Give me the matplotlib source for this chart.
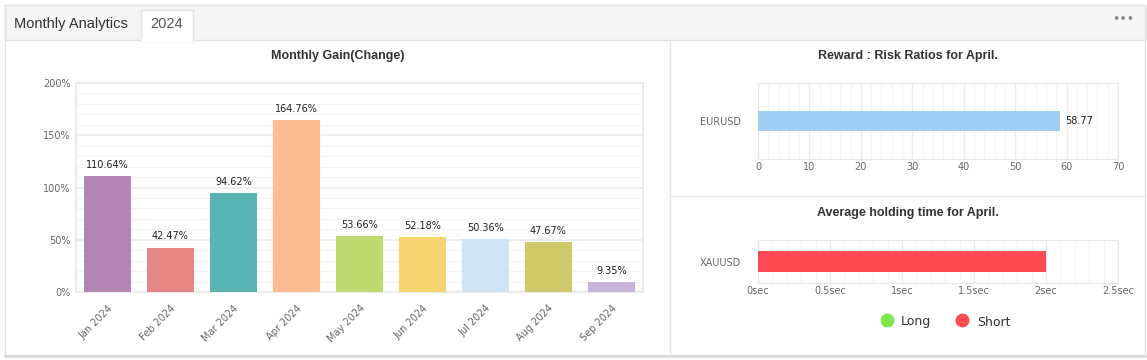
import matplotlib.pyplot as plt
from matplotlib.patches import Rectangle
from matplotlib.ticker import MultipleLocator, FuncFormatter

months = ['Jan 2024', 'Feb 2024', 'Mar 2024', 'Apr 2024', 'May 2024',
          'Jun 2024', 'Jul 2024', 'Aug 2024', 'Sep 2024']
gains = [110.64, 42.47, 94.62, 164.76, 53.66, 52.18, 50.36, 47.67, 9.35]
month_colors = ['#b385b3', '#e48785', '#5ab4b3', '#fdbb94', '#bfd870',
                '#f7d472', '#cde5f7', '#d0c96a', '#c8b4dc']

rr_symbols = ['EURUSD']
rr_values = [58.77]

hold_symbols = ['XAUUSD']
hold_short = [2.0]

W, H = 1147, 360
fig = plt.figure(figsize=(W / 100, H / 100), dpi=100)
fig.patch.set_facecolor('white')


def box(x0, y0, x1, y1):
    # pixel box (top-left origin) -> figure fraction
    return [x0 / W, 1 - y1 / H, (x1 - x0) / W, (y1 - y0) / H]


# background frame
bg = fig.add_axes([0, 0, 1, 1])
bg.set_xlim(0, W)
bg.set_ylim(H, 0)
bg.axis('off')
bg.add_patch(Rectangle((5, 5), 1140, 350, facecolor='white', edgecolor='#e2e2e2', lw=1))
bg.add_patch(Rectangle((5, 5), 1140, 35, facecolor='#f5f5f5', edgecolor='#e2e2e2', lw=1))
bg.add_patch(Rectangle((141, 10), 52, 31, facecolor='white', edgecolor='#e2e2e2', lw=1))
bg.add_patch(Rectangle((141, 39), 52, 3, facecolor='white', edgecolor='none'))
bg.plot([670, 670], [40, 355], color='#e6e6e6', lw=1)
bg.plot([670, 1145], [196, 196], color='#e6e6e6', lw=1)
bg.plot([5, 1145], [355.5, 355.5], color='#dcdcdc', lw=2)
bg.text(71, 24, 'Monthly Analytics', fontsize=10.5, color='#333333',
        family='Liberation Sans', ha='center', va='center')
bg.text(167, 24, '2024', fontsize=10.5, color='#555555',
        family='Liberation Sans', ha='center', va='center')
bg.text(1123, 20, '•••', fontsize=9, color='#888888', ha='center', va='center')

bg.text(338, 56, 'Monthly Gain(Change)', fontsize=9, fontweight='bold', color='#333333',
        family='Liberation Sans', ha='center', va='center')
bg.text(908, 56, 'Reward : Risk Ratios for April.', fontsize=9, fontweight='bold',
        color='#333333', family='Liberation Sans', ha='center', va='center')
bg.text(908, 213, 'Average holding time for April.', fontsize=9, fontweight='bold',
        color='#333333', family='Liberation Sans', ha='center', va='center')

tick_color = '#666666'

# monthly gain chart
ax = fig.add_axes(box(76, 83, 643, 292))
x = range(len(months))
ax.bar(x, gains, width=0.76, color=month_colors, zorder=3)
for xi, g in zip(x, gains):
    ax.text(xi, g + 6, f'{g:.2f}%', ha='center', va='bottom', fontsize=7, color='#222222')
ax.set_xlim(-0.5, len(months) - 0.5)
ax.set_ylim(0, 200)
ax.yaxis.set_major_locator(MultipleLocator(50))
ax.yaxis.set_minor_locator(MultipleLocator(10))
ax.yaxis.set_major_formatter(FuncFormatter(lambda v, p: f'{v:.0f}%'))
ax.grid(axis='y', which='major', color='#ececec', lw=1.2, zorder=0)
ax.grid(axis='y', which='minor', color='#f5f5f5', lw=0.8, zorder=0)
ax.set_xticks(list(x))
ax.set_xticklabels(months, rotation=45, ha='right', rotation_mode='anchor')
ax.tick_params(axis='both', which='both', length=0, labelsize=7, labelcolor=tick_color, pad=4)
ax.tick_params(axis='x', pad=8)
for s in ax.spines.values():
    s.set_color('#e8e8e8')
    s.set_linewidth(1.2)

# reward : risk chart
ax2 = fig.add_axes(box(758, 83, 1118, 159))
ax2.barh(rr_symbols, rr_values, height=0.27, color='#9fcff5', zorder=3)
for i, v in enumerate(rr_values):
    ax2.text(v + 1, i, f'{v:.2f}', va='center', ha='left', fontsize=7, color='#222222')
ax2.set_xlim(0, 70)
ax2.set_ylim(-0.5, 0.5)
ax2.xaxis.set_major_locator(MultipleLocator(10))
ax2.xaxis.set_minor_locator(MultipleLocator(2))
ax2.grid(axis='x', which='major', color='#ececec', lw=1, zorder=0)
ax2.grid(axis='x', which='minor', color='#f5f5f5', lw=0.8, zorder=0)
ax2.tick_params(axis='both', which='both', length=0, labelsize=7, labelcolor=tick_color)
ax2.tick_params(axis='x', pad=2)
ax2.tick_params(axis='y', pad=12)
for s in ax2.spines.values():
    s.set_color('#e8e8e8')

# average holding time chart
ax3 = fig.add_axes(box(758, 240, 1118, 283))
ax3.barh(hold_symbols, hold_short, height=0.5, color='#ff4b52', zorder=3)
ax3.set_xlim(0, 2.5)
ax3.set_ylim(-0.5, 0.5)
ax3.xaxis.set_major_locator(MultipleLocator(0.5))
ax3.xaxis.set_minor_locator(MultipleLocator(0.1))
ax3.xaxis.set_major_formatter(FuncFormatter(lambda v, p: f'{v:g}sec'))
ax3.grid(axis='x', which='major', color='#ececec', lw=1, zorder=0)
ax3.grid(axis='x', which='minor', color='#f5f5f5', lw=0.8, zorder=0)
ax3.tick_params(axis='both', which='both', length=0, labelsize=7, labelcolor=tick_color)
ax3.tick_params(axis='x', pad=2)
ax3.tick_params(axis='y', pad=12)
for s in ax3.spines.values():
    s.set_color('#e8e8e8')

# legend
bg.scatter([887], [320], s=80, color='#7ce84a', zorder=5)
bg.text(901, 322, 'Long', fontsize=9, color='#333333', va='center', ha='left')
bg.scatter([962], [320], s=80, color='#ff4b52', zorder=5)
bg.text(977, 322, 'Short', fontsize=9, color='#333333', va='center', ha='left')

fig.savefig('out.png', dpi=100)
